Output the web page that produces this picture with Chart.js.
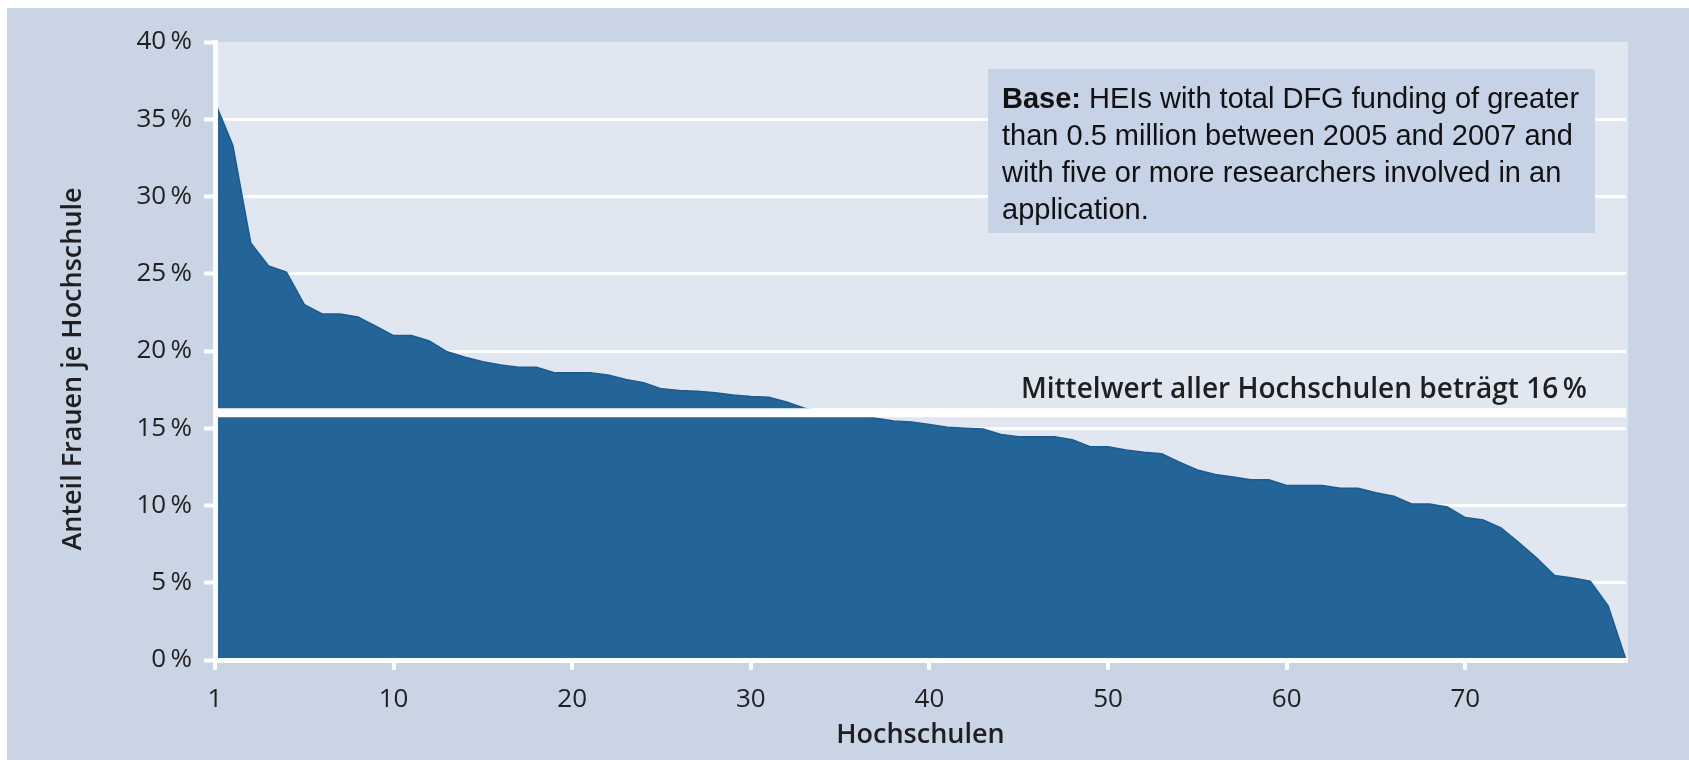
<!DOCTYPE html>
<html>
<head>
<meta charset="utf-8">
<script src="https://cdn.jsdelivr.net/npm/chart.js@4.4.1/dist/chart.umd.min.js"></script>
<style>
  html, body { margin: 0; padding: 0; background: #fff; }
  canvas { display: block; }
</style>
</head>
<body>
<canvas id="womenChart" width="1689" height="760"></canvas>
<script>
// Anteil Frauen je Hochschule, sortiert (80 Hochschulen)
const shares = [
  36.1, 33.3, 27.0, 25.5, 25.1, 23.0, 22.4, 22.4, 22.2, 21.6,
  21.0, 21.0, 20.65, 19.95, 19.6, 19.3, 19.1, 18.95, 18.95, 18.6,
  18.6, 18.6, 18.45, 18.15, 17.95, 17.55, 17.45, 17.4, 17.3, 17.15,
  17.05, 17.0, 16.7, 16.3, 16.05, 15.95, 15.9, 15.65, 15.47, 15.4,
  15.25, 15.06, 15.0, 14.95, 14.6, 14.45, 14.45, 14.45, 14.25, 13.8,
  13.8, 13.6, 13.45, 13.35, 12.8, 12.3, 12.0, 11.85, 11.66, 11.66,
  11.3, 11.3, 11.3, 11.12, 11.12, 10.82, 10.6, 10.1, 10.1, 9.9,
  9.22, 9.07, 8.55, 7.6, 6.6, 5.47, 5.3, 5.1, 3.5, 0
];
const meanShare = 16;
const xTickValues = [0, 10, 20, 30, 40, 50, 60, 70];
const xTickLabels = ['1', '10', '20', '30', '40', '50', '60', '70'];
const yMax = 40;
const yStep = 5;

const yTitle = 'Anteil Frauen je Hochschule';
const xTitle = 'Hochschulen';
const meanLabel = 'Mittelwert aller Hochschulen beträgt 16\u2009%';
const noteBold = 'Base:';
const noteLines = [
  ' HEIs with total DFG funding of greater',
  'than 0.5 million between 2005 and 2007 and',
  'with five or more researchers involved in an',
  'application.'
];

const textColor = '#1f1f1f';
const uiFont = '"Open Sans", "Noto Sans", sans-serif';

const points = shares.map((v, i) => ({ x: i, y: v }));
const lastPos = shares.length - 1;

const backdrop = {
  id: 'backdrop',
  beforeDraw(chart) {
    const { ctx, chartArea: a, width, height } = chart;
    ctx.save();
    ctx.fillStyle = '#ffffff';
    ctx.fillRect(0, 0, width, height);
    ctx.fillStyle = '#c9d4e5';
    ctx.fillRect(7, 8, width - 7, height - 8);
    ctx.fillStyle = '#e1e7f1';
    ctx.fillRect(a.left, a.top, a.right - a.left + 2, a.bottom - a.top);
    ctx.restore();
  },
  afterDraw(chart) {
    const { ctx } = chart;
    const y = chart.scales.y;
    ctx.save();
    // Achsentitel links
    ctx.fillStyle = textColor;
    ctx.font = '600 27px ' + uiFont;
    ctx.textAlign = 'center';
    ctx.textBaseline = 'middle';
    ctx.translate(73, 369);
    ctx.rotate(-Math.PI / 2);
    ctx.fillText(yTitle, 0, 0);
    ctx.setTransform(1, 0, 0, 1, 0, 0);

    // Mittelwert-Beschriftung
    ctx.font = '600 28px ' + uiFont;
    ctx.textAlign = 'right';
    ctx.textBaseline = 'alphabetic';
    ctx.fillText(meanLabel, 1587, y.getPixelForValue(meanShare) - 15);

    // Hinweisbox
    ctx.fillStyle = '#c6d2e5';
    ctx.fillRect(988, 69, 607, 164);
    ctx.fillStyle = '#111';
    ctx.textAlign = 'left';
    ctx.textBaseline = 'middle';
    ctx.font = 'bold 29px "Liberation Sans", Arial, sans-serif';
    ctx.fillText(noteBold, 1002, 100);
    const bw = ctx.measureText(noteBold).width;
    ctx.font = '29px "Liberation Sans", Arial, sans-serif';
    noteLines.forEach((line, i) => {
      ctx.fillText(line, i === 0 ? 1002 + bw : 1002, 100 + i * 37);
    });
    ctx.restore();
  }
};

new Chart(document.getElementById('womenChart'), {
  type: 'line',
  data: {
    datasets: [
      {
        label: 'Mittelwert',
        data: [{ x: 0, y: meanShare }, { x: lastPos, y: meanShare }],
        borderColor: '#ffffff',
        borderWidth: 9,
        pointRadius: 0,
        fill: false,
        clip: false,
        order: 0
      },
      {
        label: 'Anteil Frauen',
        data: points,
        backgroundColor: '#236499',
        borderColor: '#1f5a8d',
        borderWidth: 1.5,
        pointRadius: 0,
        tension: 0,
        fill: 'origin',
        order: 1
      }
    ]
  },
  options: {
    responsive: false,
    animation: false,
    events: [],
    layout: { padding: { left: 0, top: 42, right: 63, bottom: 0 } },
    plugins: {
      legend: { display: false },
      tooltip: { enabled: false }
    },
    scales: {
      x: {
        type: 'linear',
        min: 0,
        max: lastPos,
        afterBuildTicks: (s) => { s.ticks = xTickValues.map(v => ({ value: v })); },
        afterFit: (s) => { s.height = 100; },
        grid: {
          drawOnChartArea: false,
          color: '#ffffff',
          lineWidth: 4,
          tickLength: 10
        },
        border: { color: '#ffffff', width: 5, z: 1 },
        ticks: {
          padding: 14,
          color: textColor,
          font: { family: uiFont, size: 26 },
          callback: (v, i) => xTickLabels[i]
        },
        title: {
          display: true,
          text: xTitle,
          color: textColor,
          font: { family: uiFont, size: 27, weight: '600' },
          padding: { top: 0, bottom: 8 }
        }
      },
      y: {
        min: 0,
        max: yMax,
        afterFit: (s) => { s.width = 215; },
        grid: {
          color: (c) => (c.tick && c.tick.value > 0 && c.tick.value < yMax) ? '#ffffff' : 'rgba(0,0,0,0)',
          tickColor: '#ffffff',
          lineWidth: 3,
          tickWidth: 4,
          tickLength: 11
        },
        border: { color: '#ffffff', width: 5, z: 1 },
        ticks: {
          stepSize: yStep,
          padding: 12,
          color: textColor,
          font: { family: uiFont, size: 26 },
          callback: (v) => v + '\u2009%'
        },
        title: { display: false }
      }
    }
  },
  plugins: [backdrop]
});
</script>
</body>
</html>
